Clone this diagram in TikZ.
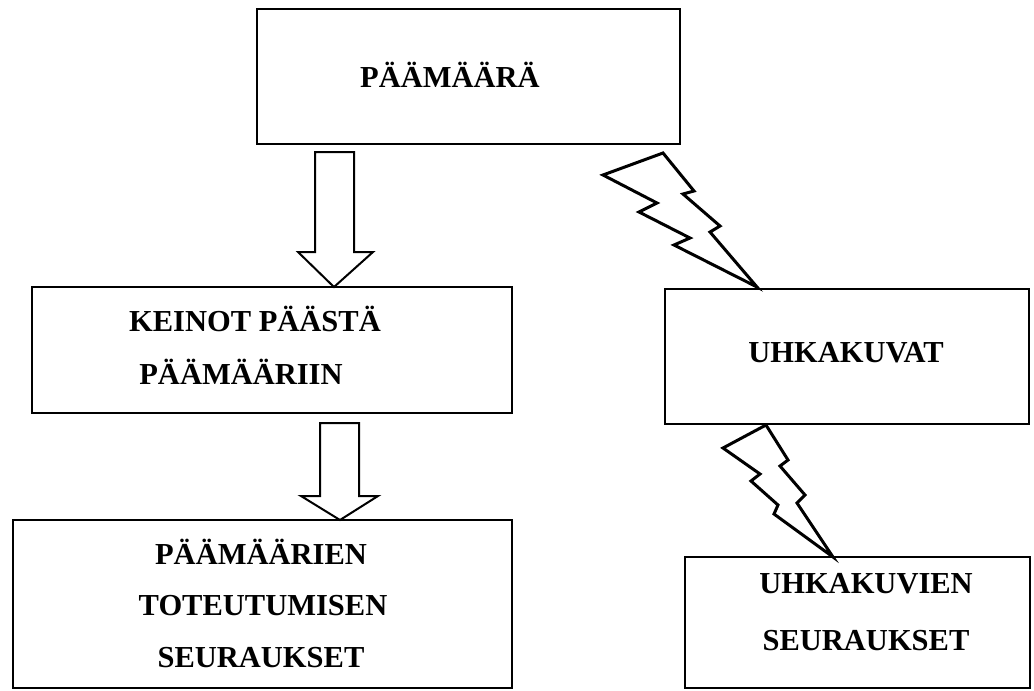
\documentclass[tikz,border=0pt]{standalone}
\usepackage{fontspec}
\setmainfont{Liberation Serif}
\begin{document}
\begin{tikzpicture}[x=1pt,y=-1pt,
  box/.style={draw=black,line width=2pt,inner sep=0pt},
  lbl/.style={font=\fontsize{30.5}{36}\selectfont\bfseries,inner sep=0pt,anchor=center},
  blockarrow/.style={draw=black,line width=2pt,fill=white,line join=miter},
  bolt/.style={draw=black,line width=3pt,fill=white,line join=miter,miter limit=20}]
\useasboundingbox (0,0) rectangle (1034,691);
% boxes
\node[box,minimum width=423pt,minimum height=135pt] (goal) at (468.5,76.5) {};
\node[box,minimum width=480pt,minimum height=126pt] (means) at (272,350) {};
\node[box,minimum width=499pt,minimum height=168pt] (results) at (262.5,604) {};
\node[box,minimum width=364pt,minimum height=135pt] (threat) at (847,356.5) {};
\node[box,minimum width=345pt,minimum height=131pt] (threatres) at (857.5,622.5) {};
% texts
\node[lbl] (tgoal) at (450,75) {PÄÄMÄÄRÄ};
\node[lbl] (tmeans1) at (255,319) {KEINOT PÄÄSTÄ};
\node[lbl] (tmeans2) at (241,372) {PÄÄMÄÄRIIN};
\node[lbl] (tres1) at (261,552) {PÄÄMÄÄRIEN};
\node[lbl] (tres2) at (263,606) {TOTEUTUMISEN};
\node[lbl] (tres3) at (261,658) {SEURAUKSET};
\node[lbl] (tthreat) at (846,353) {UHKAKUVAT};
\node[lbl] (tthr1) at (866,584) {UHKAKUVIEN};
\node[lbl] (tthr2) at (866,641) {SEURAUKSET};
% block arrows
\coordinate (a1tip) at (334,287);
\coordinate (a2tip) at (340,520);
\draw[blockarrow] (315,152) -- (354,152) -- (354,252) -- (373,252) -- (a1tip)
  -- (298,252) -- (315,252) -- cycle;
\draw[blockarrow] (320,423) -- (359,423) -- (359,496) -- (378,496) -- (a2tip)
  -- (301,496) -- (320,496) -- cycle;
% lightning bolts
\coordinate (b1tip) at (757,287);
\coordinate (b2tip) at (833,557);
\draw[bolt] (663,153) -- (603,175) -- (657,203) -- (639,212) -- (690,238) -- (674,245)
  -- (b1tip) -- (710,232) -- (720,226) -- (683,194) -- (694,191) -- cycle;
\draw[bolt] (766,425) -- (723,448) -- (760,474) -- (751,481) -- (778,505) -- (774,514)
  -- (b2tip) -- (797,503) -- (805,495) -- (780,466) -- (788,460) -- cycle;
\end{tikzpicture}
\end{document}
